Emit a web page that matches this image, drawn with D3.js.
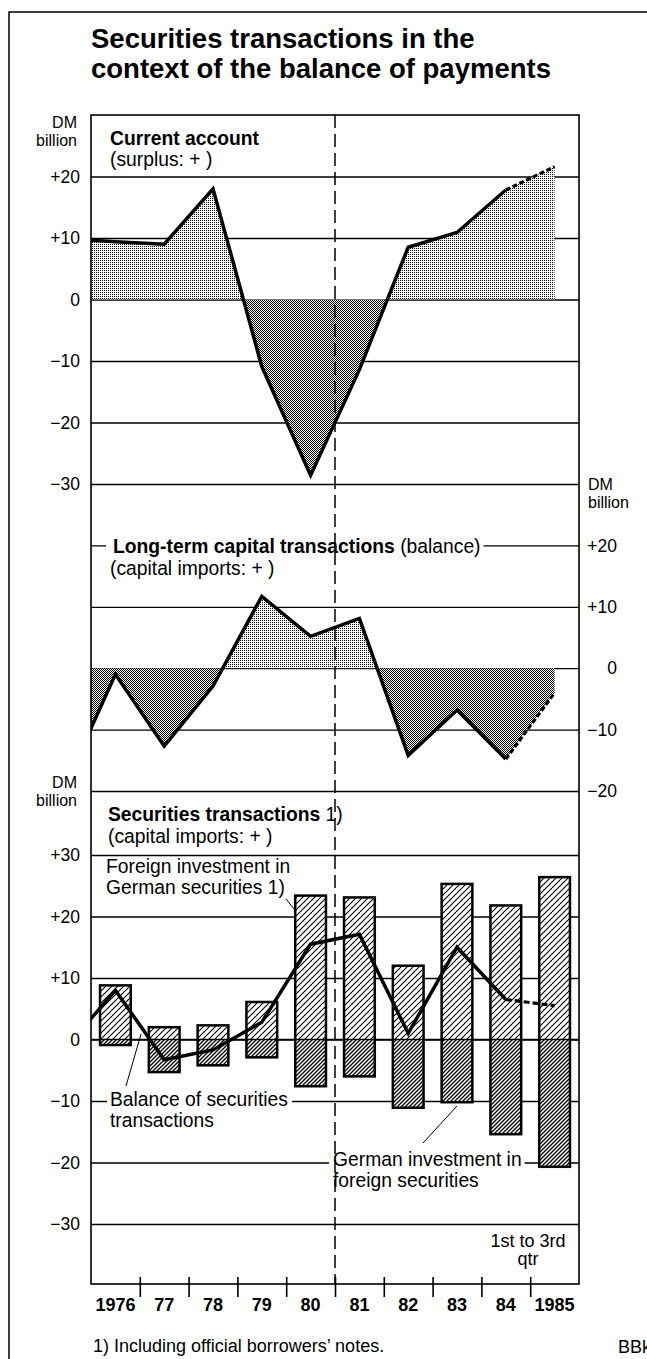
<!DOCTYPE html>
<html>
<head>
<meta charset="utf-8">
<script src="https://cdn.jsdelivr.net/npm/d3@7"></script>
<style>
  body { margin: 0; background: #fff; }
  svg { display: block; font-family: "Liberation Sans", Arial, Helvetica, sans-serif; }
  text { white-space: pre; }
</style>
</head>
<body>
<svg id="chart" width="647" height="1359"></svg>
<script>
// ---- data (DM billion) ----
const years = [1976, 1977, 1978, 1979, 1980, 1981, 1982, 1983, 1984, 1985];
const yearLabels = ["1976", "77", "78", "79", "80", "81", "82", "83", "84", "1985"];
// lines enter the plot from the previous year, so they carry a 1975 value too
const lineYears = [1975, 1976, 1977, 1978, 1979, 1980, 1981, 1982, 1983, 1984, 1985];
const currentAccount = [9.9, 9.4, 9.0, 18.0, -10.9, -28.6, -11.4, 8.5, 10.9, 17.8, 21.6];
const longTermCapital = [-18.6, -1.0, -12.7, -2.9, 11.7, 5.2, 8.1, -14.2, -6.8, -14.8, -4.0];
const securitiesBalance = [-1.2, 8.0, -3.3, -1.7, 2.8, 15.5, 17.1, 1.0, 15.0, 6.5, 5.5];
const foreignInGerman = [8.8, 2.0, 2.3, 6.1, 23.4, 23.1, 12.0, 25.3, 21.8, 26.4];
const germanInForeign = [-0.9, -5.3, -4.2, -2.9, -7.6, -6.0, -11.1, -10.2, -15.4, -20.7];
const caTicks = [20, 10, 0, -10, -20, -30];
const ltTicks = [20, 10, 0, -10, -20];
const secTicks = [30, 20, 10, 0, -10, -20, -30];

const svg = d3.select("#chart");
const plotL = 91, plotR = 579, plotT = 115, plotB = 1284;
const W = plotR - plotL;

const x = d3.scaleLinear().domain([1975.5, 1985.5]).range([plotL, plotR]);
const band = d3.scaleBand().domain(years).range([plotL, plotR]).paddingInner(0.37).paddingOuter(0.185);

const yCA = d3.scaleLinear().domain([30, -30]).range([115, 484]);
const yLT = d3.scaleLinear().domain([30, -20]).range([484, 791]);
const ySec = d3.scaleLinear().domain([30, -30]).range([855, 1224]);

const fmt = d => d > 0 ? "+" + d : d < 0 ? "\u2212" + (-d) : "0";
const LABEL_SIZE = 19.3;

// ---- patterns ----
const defs = svg.append("defs");
function stipple(id, cells) {
  const p = defs.append("pattern").attr("id", id).attr("patternUnits", "userSpaceOnUse")
    .attr("width", 2).attr("height", 2);
  p.append("rect").attr("width", 2).attr("height", 2).attr("fill", "#fff");
  cells.forEach(c => p.append("rect").attr("x", c[0]).attr("y", c[1]).attr("width", 1).attr("height", 1).attr("fill", "#000"));
}
stipple("light", [[0, 0]]);
stipple("dark", [[0, 0], [1, 1]]);

function hatch(id, s, w) {
  const p = defs.append("pattern").attr("id", id).attr("patternUnits", "userSpaceOnUse")
    .attr("width", s).attr("height", s);
  p.append("rect").attr("width", s).attr("height", s).attr("fill", "#fff");
  p.append("path")
    .attr("d", `M0,${s}L${s},0M${-s / 2},${s / 2}L${s / 2},${-s / 2}M${s / 2},${s * 1.5}L${s * 1.5},${s / 2}`)
    .attr("stroke", "#000").attr("stroke-width", w);
}
hatch("hatchPos", 6, 1.1);
hatch("hatchNeg", 4, 1.3);

function clipRect(id, x0, y0, w, h) {
  defs.append("clipPath").attr("id", id).append("rect")
    .attr("x", x0).attr("y", y0).attr("width", w).attr("height", h);
}
clipRect("plot", plotL, plotT, W, plotB - plotT);

const gridLayer = svg.append("g");
const knockLayer = svg.append("g");
const dataLayer = svg.append("g");
const textLayer = svg.append("g");

// ---- frame ----
svg.append("path").attr("d", "M9,1359V12H647").attr("fill", "none").attr("stroke", "#000").attr("stroke-width", 1.5);

// ---- title ----
const title = textLayer.append("text").attr("font-size", 27.5).attr("font-weight", "bold");
title.append("tspan").attr("x", 91).attr("y", 48).text("Securities transactions in the");
title.append("tspan").attr("x", 91).attr("y", 78).text("context of the balance of payments");

// ---- gridlines ----
function grid(y, ticks) {
  gridLayer.append("g")
    .attr("transform", `translate(${plotL},0)`)
    .call(d3.axisLeft(y).tickValues(ticks).tickSize(-W).tickFormat(""))
    .call(g => g.select(".domain").remove())
    .selectAll("line").attr("stroke", "#000").attr("stroke-width", 1.3);
}
grid(yCA, caTicks);
grid(yLT, ltTicks);
grid(ySec, secTicks);

// ---- value axes ----
function leftAxis(y, ticks) {
  const g = textLayer.append("g")
    .attr("transform", `translate(${plotL},0)`)
    .call(d3.axisLeft(y).tickValues(ticks).tickSize(0).tickPadding(11).tickFormat(fmt));
  g.select(".domain").remove();
  g.selectAll("text").attr("font-size", 17.5).attr("font-family", null).attr("fill", "#000");
}
leftAxis(yCA, caTicks);
leftAxis(ySec, secTicks);

const ra = textLayer.append("g")
  .attr("transform", `translate(${plotR},0)`)
  .call(d3.axisRight(yLT).tickValues(ltTicks).tickSize(0).tickFormat(fmt));
ra.select(".domain").remove();
ra.selectAll("text").attr("font-size", 17.5).attr("font-family", null).attr("fill", "#000")
  .attr("text-anchor", "end").attr("x", 38);

function unit(xx, y1, anchor) {
  const t = textLayer.append("text").attr("font-size", 16).attr("text-anchor", anchor);
  t.append("tspan").attr("x", xx).attr("y", y1).text("DM");
  t.append("tspan").attr("x", xx).attr("y", y1 + 18).text("billion");
}
unit(77, 128, "end");
unit(77, 788, "end");
unit(588, 490, "start");

// ---- labels ----
function label(xx, yy, parts, knock) {
  const t = textLayer.append("text").attr("x", xx).attr("y", yy).attr("font-size", LABEL_SIZE);
  parts.forEach(([s, b]) => t.append("tspan").attr("font-weight", b ? "bold" : null).text(s));
  if (knock) {
    const bb = t.node().getBBox();
    knockLayer.append("rect").attr("x", bb.x - knock[0]).attr("y", bb.y)
      .attr("width", bb.width + knock[0] + knock[1]).attr("height", bb.height).attr("fill", "#fff");
  }
}
label(110, 145, [["Current account", true]]);
label(110, 166, [["(surplus: + )", false]]);
label(113, 553, [["Long-term capital transactions", true], [" (balance)", false]], [7, 3]);
label(110, 575, [["(capital imports: + )", false]]);
label(108, 821, [["Securities transactions", true], [" 1)", false]]);
label(108, 843, [["(capital imports: + )", false]]);
label(106, 873, [["Foreign investment in", false]]);
label(106, 894, [["German securities 1)", false]]);
label(110, 1106, [["Balance of securities", false]], [3, 4]);
label(110, 1127, [["transactions", false]]);
label(333, 1166, [["German investment in", false]], [4, 3]);
label(333, 1187, [["foreign securities", false]]);
textLayer.append("text").attr("x", 528).attr("y", 1247).attr("font-size", 18).attr("text-anchor", "middle").text("1st to 3rd");
textLayer.append("text").attr("x", 528).attr("y", 1265).attr("font-size", 18).attr("text-anchor", "middle").text("qtr");
textLayer.append("text").attr("x", 93).attr("y", 1352).attr("font-size", 18).text("1) Including official borrowers\u2019 notes.");
textLayer.append("text").attr("x", 618).attr("y", 1353).attr("font-size", 18).text("BBk");

// leader lines
const leaders = [[[286, 899], [294, 909]], [[126, 1086], [141, 1034]], [[423, 1143], [457, 1106]]];
leaders.forEach(l => textLayer.append("path").attr("d", d3.line()(l)).attr("stroke", "#000").attr("stroke-width", 1).attr("fill", "none"));

// ---- areas + lines ----
function areaPanel(id, y, values, y0, y1) {
  const pts = lineYears.map((yr, i) => [yr, values[i]]);
  clipRect(id + "Pos", plotL, y0, W, y(0) - y0);
  clipRect(id + "Neg", plotL, y(0), W, y1 - y(0));
  const area = d3.area().x(d => x(d[0])).y0(y(0)).y1(d => y(d[1]));
  dataLayer.append("g").attr("clip-path", `url(#${id}Pos)`)
    .append("path").datum(pts).attr("d", area).attr("fill", "url(#light)");
  dataLayer.append("g").attr("clip-path", `url(#${id}Neg)`)
    .append("path").datum(pts).attr("d", area).attr("fill", "url(#dark)");
}
areaPanel("ca", yCA, currentAccount, 115, 484);
areaPanel("lt", yLT, longTermCapital, 484, 791);

// ---- bars ----
const bars = dataLayer.append("g");
years.forEach((yr, i) => {
  const bx = band(yr), bw = band.bandwidth();
  bars.append("rect").attr("x", bx).attr("y", ySec(foreignInGerman[i])).attr("width", bw)
    .attr("height", ySec(0) - ySec(foreignInGerman[i])).attr("fill", "url(#hatchPos)");
  bars.append("rect").attr("x", bx).attr("y", ySec(0)).attr("width", bw)
    .attr("height", ySec(germanInForeign[i]) - ySec(0)).attr("fill", "url(#hatchNeg)");
  bars.append("rect").attr("x", bx).attr("y", ySec(foreignInGerman[i])).attr("width", bw)
    .attr("height", ySec(germanInForeign[i]) - ySec(foreignInGerman[i]))
    .attr("fill", "none").attr("stroke", "#000").attr("stroke-width", 2.5);
});
bars.append("line").attr("x1", plotL).attr("x2", plotR).attr("y1", ySec(0)).attr("y2", ySec(0))
  .attr("stroke", "#000").attr("stroke-width", 1.3);

// dashed divider between 1980 and 1981
dataLayer.append("line").attr("x1", x(1980.5)).attr("x2", x(1980.5)).attr("y1", plotT).attr("y2", plotB)
  .attr("stroke", "#000").attr("stroke-width", 1.5).attr("stroke-dasharray", "13,6");

function seriesLine(y, values, dash) {
  const pts = lineYears.map((yr, i) => [yr, values[i]]);
  const line = d3.line().x(d => x(d[0])).y(d => y(d[1]));
  dataLayer.append("g").attr("clip-path", "url(#plot)")
    .append("path").datum(pts.slice(0, -1)).attr("d", line)
    .attr("fill", "none").attr("stroke", "#000").attr("stroke-width", 3.5).attr("stroke-linejoin", "miter");
  dataLayer.append("path").datum(pts.slice(-2)).attr("d", line)
    .attr("fill", "none").attr("stroke", "#000").attr("stroke-width", 3.2).attr("stroke-dasharray", dash);
}
seriesLine(yCA, currentAccount, "5,2.5");
seriesLine(yLT, longTermCapital, "5,2.5");
seriesLine(ySec, securitiesBalance, "6,3");

// ---- plot border + year axis ----
dataLayer.append("rect").attr("x", plotL).attr("y", plotT).attr("width", W).attr("height", plotB - plotT)
  .attr("fill", "none").attr("stroke", "#000").attr("stroke-width", 1.6);

const bounds = years.slice(0, -1).map(yr => yr + 0.5);
const tk = dataLayer.append("g").attr("transform", `translate(0,${plotB - 7})`)
  .call(d3.axisBottom(x).tickValues(bounds).tickSize(20).tickFormat(""));
tk.select(".domain").remove();
tk.selectAll("line").attr("stroke", "#000").attr("stroke-width", 1.6);

const yl = textLayer.append("g").attr("transform", `translate(0,${plotB})`)
  .call(d3.axisBottom(band).tickSize(0).tickPadding(14).tickFormat((d, i) => yearLabels[i]));
yl.select(".domain").remove();
yl.selectAll("text").attr("font-size", 18).attr("font-weight", "bold").attr("font-family", null)
  .attr("fill", "#000").attr("dy", 0).attr("y", 27);
</script>
</body>
</html>
